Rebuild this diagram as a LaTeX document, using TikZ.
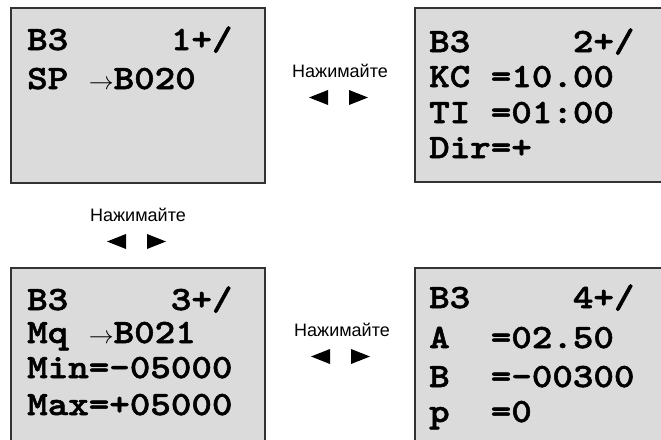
\documentclass[tikz,border=0pt]{standalone}
\usepackage{fontspec}
\setmainfont{Liberation Sans}
\newfontfamily\lcd[FakeStretch=1.15, FakeBold=1.6]{lmmonolt10-bold.otf}
\usetikzlibrary{positioning}

\tikzset{
  display/.style={rectangle, draw=black!80, line width=2.6pt, fill=black!14, inner sep=0pt},
  riga/.style={anchor=base west, inner sep=0pt, font=\lcd\fontsize{34}{36}\selectfont},
  avviso/.style={inner sep=0pt, font=\fontsize{18}{20}\selectfont}
}

\begin{document}
\begin{tikzpicture}[x=1pt,y=-1pt]
        \clip (0,0) rectangle (661,439);
        % Display del modulo
        \foreach \nome/\x/\y/\w/\h in {d1/138/95.5/254/175, d2/543/95/256/174,
                                        d3/138/360/254/184, d4/543/360/256/184}
            \node[display, minimum width=\w pt, minimum height=\h pt] (\nome) at (\x,\y) {};

        % Prima riga di ogni display
        \foreach \nome/\x/\y/\n in {d1/27/50/1, d2/429/52/2, d3/27/310/3, d4/429/308/4}
            \node[riga] (\nome-r1) at (\x,\y) {B3~~~~~\n+/};

        % Righe dei parametri
        \foreach \nome/\x/\y/\testo in {d1-r2/27/89/SP~$\rightarrow$B020,
                                         d2-r2/429/87/KC~=10.00,
                                         d2-r3/429/123/TI~=01:00,
                                         d2-r4/429/158/Dir=+,
                                         d3-r2/27/343/Mq~$\rightarrow$B021,
                                         d3-r3/27/378/Min=—05000,
                                         d3-r4/27/415/Max=+05000,
                                         d4-r2/429/348/A~~=02.50,
                                         d4-r3/429/387/B~~=—00300,
                                         d4-r4/429/422/p~~=0}
            \node[riga] (\nome) at (\x,\y) {\testo};

        % Indicazioni con i tasti cursore
        \foreach \nome/\x/\y in {n1/340/71, n2/138/215, n3/342/330}
            \node[avviso] (\nome) at (\x,\y) {Нажимайте};
        \foreach \nome in {n1,n2,n3} {
            \fill ([shift={(-31,26.5)}]\nome.center) -- ++(19,-7.5) -- ++(0,15) -- cycle; % sinistra
            \fill ([shift={(28,26.5)}]\nome.center) -- ++(-19,-7.5) -- ++(0,15) -- cycle; % destra
        }
    \end{tikzpicture}
\end{document}
